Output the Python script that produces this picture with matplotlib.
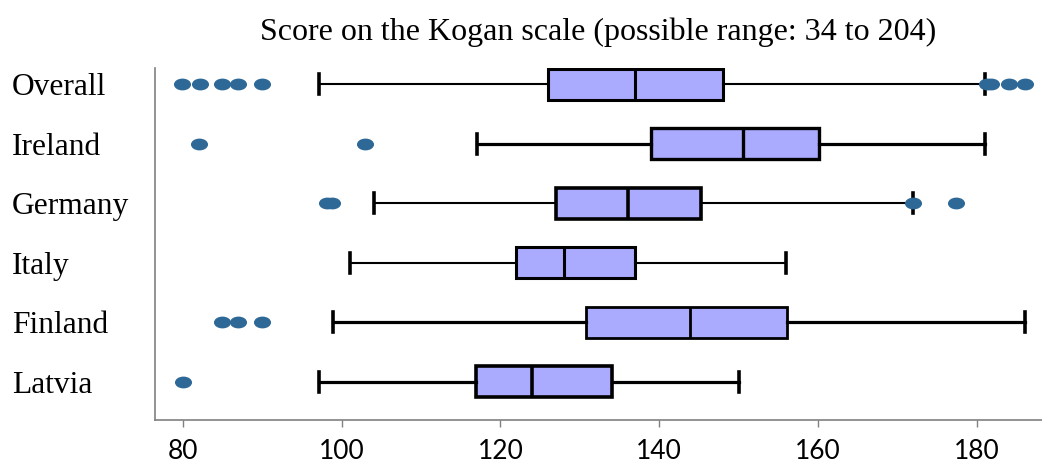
import matplotlib
matplotlib.use("Agg")
import matplotlib.pyplot as plt
from matplotlib.markers import MarkerStyle
from matplotlib.transforms import Affine2D

# data (top row first)
groups = ["Overall", "Ireland", "Germany", "Italy", "Finland", "Latvia"]
whislo = [97.1, 117.0, 104.1, 101.0, 98.9, 97.1]
q1 = [126.0, 139.0, 127.0, 121.9, 130.8, 116.9]
med = [137.0, 150.6, 136.0, 128.0, 143.9, 124.0]
q3 = [148.0, 160.1, 145.2, 137.0, 156.1, 134.0]
whishi = [181.0, 181.0, 172.0, 156.0, 186.0, 150.0]
fliers = [
    [79.9, 82.1, 84.9, 87.0, 90.0, 181.3, 181.8, 184.1, 186.0],
    [82.0, 102.9],
    [98.2, 98.8, 172.0, 177.4],
    [],
    [84.9, 87.0, 90.0],
    [80.0],
]
xticks = [80, 100, 120, 140, 160, 180]

# line widths differ a bit per row in the original
whisker_lw = [1.5, 2.3, 1.5, 1.5, 2.3, 2.3]
box_lw = [2.2, 2.4, 2.6, 2.2, 2.0, 2.6]

stats = []
for i in range(len(groups)):
    stats.append(dict(label=groups[i], whislo=whislo[i], q1=q1[i], med=med[i],
                      q3=q3[i], whishi=whishi[i], fliers=fliers[i]))

fig = plt.figure(figsize=(10.42, 4.68), dpi=100)
ax = fig.add_axes([0.1488, 0.1026, 0.8512, 0.7521])

n = len(groups)
positions = list(range(n, 0, -1))
flier_marker = MarkerStyle("o", transform=Affine2D().scale(1.5, 1.0))

for i in range(n):
    ax.bxp([stats[i]], positions=[positions[i]], vert=False, widths=0.52,
           patch_artist=True, showfliers=True,
           boxprops=dict(facecolor="#aaaaff", edgecolor="black", linewidth=box_lw[i]),
           medianprops=dict(color="black", linewidth=box_lw[i]),
           whiskerprops=dict(color="black", linewidth=whisker_lw[i]),
           capprops=dict(color="black", linewidth=2.6),
           capwidths=0.34,
           flierprops=dict(marker=flier_marker, markersize=7.5,
                           markerfacecolor="#2d6897", markeredgecolor="#2d6897"))

ax.set_xlim(76.5, 188.2)
ax.set_ylim(0.356, 6.274)
ax.set_xticks(xticks)
ax.set_xticklabels([str(t) for t in xticks], family="Lato", fontsize=19)
ax.set_yticks(positions)
ax.set_yticklabels(groups, family="Liberation Serif", fontsize=22.7, ha="left")
ax.tick_params(axis="y", length=0, pad=103)
ax.tick_params(axis="x", length=5, width=1, color="#808080", pad=9)

for s in ["top", "right"]:
    ax.spines[s].set_visible(False)
for s in ["left", "bottom"]:
    ax.spines[s].set_color("#808080")
    ax.spines[s].set_linewidth(1.2)

ax.set_title("Score on the Kogan scale (possible range: 34 to 204)",
             family="Liberation Serif", fontsize=23, pad=20)

fig.savefig("out.png", dpi=100)
